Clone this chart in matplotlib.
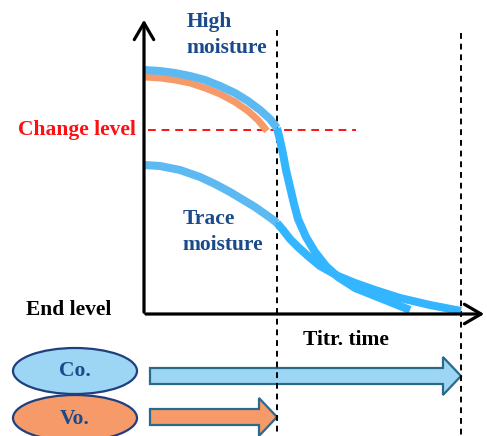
import matplotlib.pyplot as plt
import matplotlib.patches as mpatches

# schematic drawn in picture coordinates (x right, y down)
high_x = [144, 160, 175, 190, 205, 220, 235, 248, 260, 270, 277]
high_y = [70, 71, 73, 76, 80, 86, 93, 101, 110, 119, 128]
vo_x = [144, 160, 175, 190, 205, 220, 235, 248, 258, 267]
vo_y = [77, 78, 80, 83, 88, 94, 102, 111, 120, 131]
drop_x = [277, 280, 283, 286, 290, 294, 298, 306, 315, 326, 338, 355, 375, 395, 410]
drop_y = [128, 140, 154, 170, 187, 204, 219, 237, 252, 266, 277, 288, 296, 304, 310]
trace_x = [144, 160, 180, 200, 215, 230, 245, 255, 265, 272, 277]
trace_y = [165, 166, 170, 177, 184, 192, 201, 207, 214, 219, 223]
trace_tail_x = [277, 283, 290, 298, 308, 320, 338, 355, 375, 400, 430, 461]
trace_tail_y = [223, 230, 239, 247, 256, 266, 276, 283, 290, 298, 305, 311]

change_level = 130
vo_end = 277
co_end = 461

blue_light = '#5DB9F2'
blue_bright = '#33B5FF'
orange = '#F79A6A'
navy = '#1B4A8C'

plt.rcParams['font.family'] = 'Liberation Serif'
plt.rcParams['font.weight'] = 'bold'

fig = plt.figure(figsize=(4.87, 4.36), dpi=100)
ax = fig.add_axes([0, 0, 1, 1])
ax.set_xlim(0, 487)
ax.set_ylim(436, 0)
ax.axis('off')

# axes with arrows
arrow_style = '->,head_length=1.2,head_width=0.7'
ax.annotate('', xy=(144, 17), xytext=(144, 315),
            arrowprops=dict(arrowstyle=arrow_style, lw=2.3, color='black'))
ax.annotate('', xy=(487, 314), xytext=(143, 314),
            arrowprops=dict(arrowstyle=arrow_style, lw=2.3, color='black'))

# dashed guides
ax.plot([vo_end, vo_end], [30, 436], color='black', ls=(0, (3, 2.5)), lw=1.4)
ax.plot([co_end, co_end], [33, 436], color='black', ls=(0, (3, 2.5)), lw=1.4)
ax.plot([148, 356], [change_level, change_level], color='#FF1010', ls=(0, (4, 3)), lw=1.4)

# curves
ax.plot(vo_x, vo_y, color=orange, lw=5, solid_capstyle='butt', solid_joinstyle='round')
ax.plot(trace_tail_x, trace_tail_y, color=blue_bright, lw=5.8, solid_capstyle='butt', solid_joinstyle='round')
ax.plot(drop_x, drop_y, color=blue_bright, lw=5.8, solid_capstyle='butt', solid_joinstyle='round')
ax.plot(high_x, high_y, color=blue_light, lw=5.8, solid_capstyle='butt', solid_joinstyle='round')
ax.plot(trace_x, trace_y, color=blue_light, lw=5.8, solid_capstyle='butt', solid_joinstyle='round')

# labels
ax.text(187, 22, 'High', color=navy, fontsize=15.5, va='center', ha='left')
ax.text(186, 48, 'moisture', color=navy, fontsize=15.5, va='center', ha='left')
ax.text(183, 219, 'Trace', color=navy, fontsize=15.5, va='center', ha='left')
ax.text(182, 245, 'moisture', color=navy, fontsize=15.5, va='center', ha='left')
ax.text(136, 130, 'Change level', color='#FF1010', fontsize=15.5, va='center', ha='right')
ax.text(26, 310, 'End level', color='black', fontsize=15.5, va='center', ha='left')
ax.text(303, 340, 'Titr. time', color='black', fontsize=15.5, va='center', ha='left')

# method ovals
ax.add_patch(mpatches.Ellipse((75, 371), 124, 46, facecolor='#9DD5F5', edgecolor='#1F3F7F', lw=1.6))
ax.add_patch(mpatches.Ellipse((75, 418), 124, 46, facecolor=orange, edgecolor='#1F3F7F', lw=1.6))
ax.text(75, 371, 'Co.', color=navy, fontsize=15.5, va='center', ha='center')
ax.text(75, 419, 'Vo.', color=navy, fontsize=15.5, va='center', ha='center')

# duration arrows
ax.add_patch(mpatches.FancyArrow(150, 376, co_end - 150, 0, width=16, head_width=38, head_length=18,
                                 length_includes_head=True, facecolor='#9DD5F5', edgecolor='#2A6A8A', lw=1.6))
ax.add_patch(mpatches.FancyArrow(150, 417, vo_end - 150, 0, width=16, head_width=38, head_length=18,
                                 length_includes_head=True, facecolor=orange, edgecolor='#2A6A8A', lw=1.6))

plt.savefig('out.png', dpi=100)
